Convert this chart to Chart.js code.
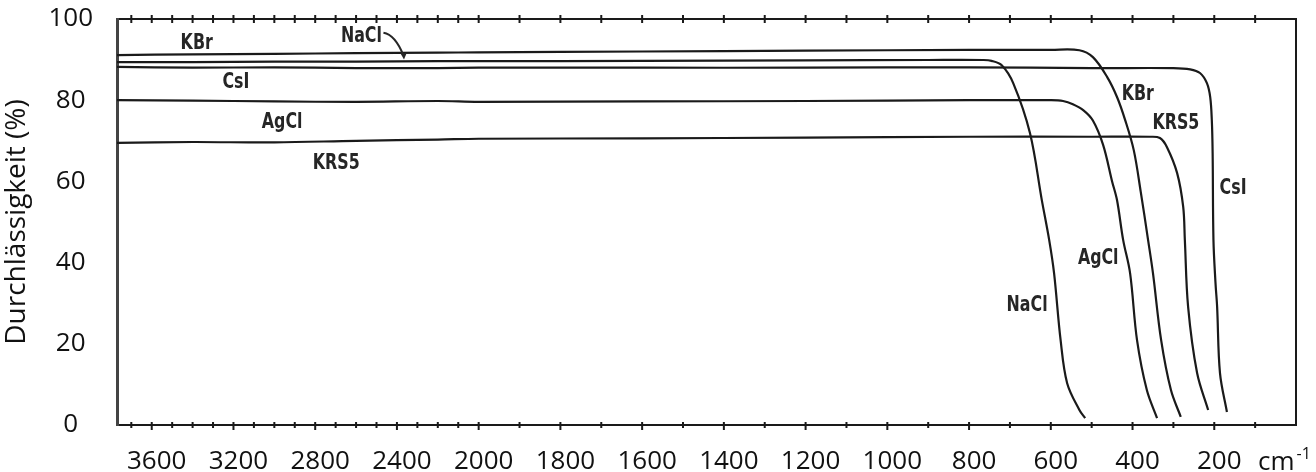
<!DOCTYPE html>
<html>
<head>
<meta charset="utf-8">
<script src="https://cdn.jsdelivr.net/npm/chart.js@4.4.1/dist/chart.umd.min.js"></script>
<style>
  html, body { margin: 0; padding: 0; background: #fff; }
  #wrap { width: 1316px; height: 472px; position: relative; }
</style>
</head>
<body>
<div id="wrap"><canvas id="chart"></canvas></div>
<script>
// wavenumber (cm-1) / transmission (%) pairs
const kbrWn = [3770, 3400, 3000, 2600, 2200, 2000, 1600, 1200, 800, 600, 530, 497, 462, 438, 418, 397, 380, 362, 350, 330, 306, 282];
const kbrT  = [91.1, 91.3, 91.4, 91.6, 91.7, 91.8, 92.0, 92.2, 92.4, 92.4, 92.3, 90.6, 85.7, 80.8, 75.1, 67.7, 57.5, 45.6, 37.4, 20.9, 8.6, 2.0];

const naclWn = [3770, 3400, 3000, 2600, 2200, 2000, 1600, 1200, 900, 766, 745, 720, 692, 651, 622, 604, 592, 576, 560, 530, 516];
const naclT  = [89.4, 89.4, 89.5, 89.5, 89.6, 89.6, 89.7, 89.8, 89.9, 89.9, 89.7, 88.6, 84.2, 71.9, 55.4, 45.6, 37.4, 20.9, 10.3, 3.7, 1.7];

const csiWn = [3770, 3400, 3000, 2600, 2200, 2000, 1600, 1200, 800, 500, 300, 259, 235, 218, 210, 206, 204, 202, 197, 193, 186, 169];
const csiT  = [88.2, 88.0, 88.1, 87.9, 87.9, 88.0, 88.0, 88.0, 88.1, 87.9, 87.9, 87.6, 86.7, 84.2, 80.8, 75.1, 67.0, 45.6, 35.0, 29.1, 12.8, 3.2];

const agclWn = [3770, 3400, 3000, 2600, 2200, 2000, 1600, 1200, 800, 600, 570, 546, 520, 497, 472, 450, 438, 423, 406, 389, 365, 340];
const agclT  = [80.0, 79.9, 79.7, 79.6, 79.8, 79.6, 79.7, 79.8, 80.0, 80.0, 79.8, 79.0, 77.5, 75.0, 69.0, 60.0, 55.4, 45.6, 37.4, 20.9, 8.6, 1.7];

const krs5Wn = [3770, 3400, 3000, 2600, 2200, 2000, 1600, 1200, 800, 500, 357, 333, 316, 291, 276, 272, 264, 242, 215];
const krs5T  = [69.5, 69.7, 69.6, 70.0, 70.3, 70.5, 70.6, 70.8, 71.0, 71.0, 71.0, 70.7, 68.5, 62.1, 53.7, 45.6, 29.1, 12.8, 3.7];

// x axis: ticks every 100 cm-1, labels on the major ones
const xTickMarks = [3700, 3600, 3500, 3400, 3300, 3200, 3100, 3000, 2900, 2800, 2700, 2600, 2500, 2400, 2300, 2200, 2100, 2000,
  1900, 1800, 1700, 1600, 1500, 1400, 1300, 1200, 1100, 1000, 900, 800, 700, 600, 500, 400, 300, 200, 100];
const xTickLabels = [3600, 3200, 2800, 2400, 2000, 1800, 1600, 1400, 1200, 1000, 800, 600, 400, 200];
const yTicks = [0, 20, 40, 60, 80, 100];

// in-plot curve labels
const labelText = ['KBr', 'NaCl', 'CsI', 'AgCl', 'KRS5', 'KBr', 'KRS5', 'CsI', 'AgCl', 'NaCl'];
const labelWn   = [3380, 2574, 3188, 2962, 2697, 387, 294, 154, 484, 658];
const labelT    = [94.1, 95.8, 84.5, 74.6, 64.5, 81.5, 74.4, 58.4, 41.1, 29.6];
const naclArrowWn = [2466, 2418, 2368];
const naclArrowT  = [96.6, 95.6, 90.0];

const WN_MAX = 3770;

// the scan is compressed by 2 above 2000 cm-1
const toAxis = (wn) => (wn <= 2000 ? wn : 2000 + (wn - 2000) / 2);
const fromAxis = (u) => (u <= 2000 ? u : 2000 + (u - 2000) * 2);

const pts = (wn, t) => wn.map((w, i) => ({ x: toAxis(w), y: t[i] }));

const INK = '#1a1a1a';
const FONT = '"Open Sans", "Noto Sans", sans-serif';

const ds = (name, wn, t) => ({
  label: name,
  data: pts(wn, t),
  borderColor: INK,
  backgroundColor: 'transparent',
  borderWidth: 2.2,
  pointRadius: 0,
  tension: 0.35,
});

const isMajor = (u) => xTickLabels.includes(Math.round(fromAxis(u)));

const tickMarks = {
  id: 'tickMarks',
  afterDatasetsDraw(chart) {
    const { ctx, chartArea: a, scales: { x } } = chart;
    ctx.save();
    ctx.strokeStyle = INK;
    ctx.lineWidth = 2;
    x.ticks.forEach((t, i) => {
      const px = x.getPixelForTick(i);
      const h = isMajor(t.value) ? 5 : 3;
      ctx.beginPath();
      ctx.moveTo(px, a.top - 4); ctx.lineTo(px, a.top + 4);
      ctx.moveTo(px, a.bottom - 3); ctx.lineTo(px, a.bottom + h);
      ctx.stroke();
    });
    ctx.restore();
  }
};

const curveLabels = {
  id: 'curveLabels',
  afterDatasetsDraw(chart) {
    const { ctx, scales: { x, y } } = chart;
    ctx.save();
    ctx.fillStyle = '#262626';
    ctx.font = 'bold 22px "DejaVu Sans Condensed", "DejaVu Sans", sans-serif';
    ctx.textAlign = 'center';
    ctx.textBaseline = 'middle';
    labelText.forEach((s, i) => {
      ctx.save();
      ctx.translate(x.getPixelForValue(toAxis(labelWn[i])), y.getPixelForValue(labelT[i]));
      ctx.scale(0.8, 1);
      ctx.fillText(s, 0, 0);
      ctx.restore();
    });
    // little arrow from the NaCl label down to its line
    const ax = naclArrowWn.map(w => x.getPixelForValue(toAxis(w)));
    const ay = naclArrowT.map(t => y.getPixelForValue(t));
    ctx.strokeStyle = '#262626';
    ctx.lineWidth = 2;
    ctx.beginPath();
    ctx.moveTo(ax[0], ay[0]);
    ctx.quadraticCurveTo(ax[1] + 2, ay[1] - 2, ax[2], ay[2] - 4);
    ctx.stroke();
    ctx.beginPath();
    ctx.moveTo(ax[2] - 3.5, ay[2] - 7);
    ctx.lineTo(ax[2] + 3, ay[2] - 6);
    ctx.lineTo(ax[2] + 0.5, ay[2]);
    ctx.closePath();
    ctx.fill();
    // unit at the end of the x axis
    ctx.fillStyle = '#111';
    ctx.textAlign = 'left';
    ctx.textBaseline = 'alphabetic';
    ctx.font = '26px ' + FONT;
    const ux = chart.chartArea.right - 38;
    const uy = chart.chartArea.bottom + 45;
    ctx.fillText('cm', ux, uy);
    const w = ctx.measureText('cm').width;
    ctx.font = '16px ' + FONT;
    ctx.fillText('-1', ux + w + 2, uy - 11);
    ctx.restore();
  }
};

new Chart(document.getElementById('chart').getContext('2d'), {
  type: 'line',
  data: {
    datasets: [
      ds('KBr', kbrWn, kbrT),
      ds('NaCl', naclWn, naclT),
      ds('CsI', csiWn, csiT),
      ds('AgCl', agclWn, agclT),
      ds('KRS5', krs5Wn, krs5T),
    ]
  },
  options: {
    responsive: true,
    maintainAspectRatio: false,
    animation: false,
    layout: { padding: { top: 19, right: 20, left: 0, bottom: 0 } },
    plugins: { legend: { display: false }, tooltip: { enabled: false } },
    scales: {
      x: {
        type: 'linear',
        reverse: true,
        min: 0,
        max: toAxis(WN_MAX),
        afterBuildTicks: (s) => { s.ticks = xTickMarks.map(w => ({ value: toAxis(w) })); },
        afterFit: (s) => { s.height = 47; },
        grid: { display: true, drawOnChartArea: false, drawTicks: false },
        border: { color: INK, width: 2 },
        ticks: {
          autoSkip: false, maxRotation: 0, padding: 21, labelOffset: 5,
          color: '#111', font: { family: FONT, size: 26 },
          callback: (v) => (isMajor(v) ? String(Math.round(fromAxis(v))) : ''),
        }
      },
      x2: {
        type: 'linear', position: 'top', reverse: true, min: 0, max: toAxis(WN_MAX),
        afterFit: (s) => { s.height = 0; },
        grid: { display: true, drawOnChartArea: false, drawTicks: false },
        border: { color: INK, width: 2 },
        ticks: { display: false }
      },
      y: {
        min: 0,
        max: 100,
        afterBuildTicks: (s) => { s.ticks = yTicks.map(v => ({ value: v })); },
        afterFit: (s) => { s.width = 117; },
        // invisible tick marks keep the labels away from the axis
        grid: { display: true, drawOnChartArea: false, drawTicks: true, tickLength: 24, tickColor: 'rgba(0,0,0,0)' },
        border: { color: '#444', width: 3 },
        title: { display: true, text: 'Durchlässigkeit (%)', color: '#111', font: { family: FONT, size: 28 }, padding: { top: 0, bottom: 0 } },
        ticks: { crossAlign: 'center', padding: 0, color: '#111', font: { family: FONT, size: 26 } }
      },
      y2: {
        position: 'right', min: 0, max: 100,
        afterFit: (s) => { s.width = 0; },
        grid: { display: true, drawOnChartArea: false, drawTicks: false },
        border: { color: INK, width: 2 },
        ticks: { display: false }
      }
    }
  },
  plugins: [tickMarks, curveLabels]
});
</script>
</body>
</html>
